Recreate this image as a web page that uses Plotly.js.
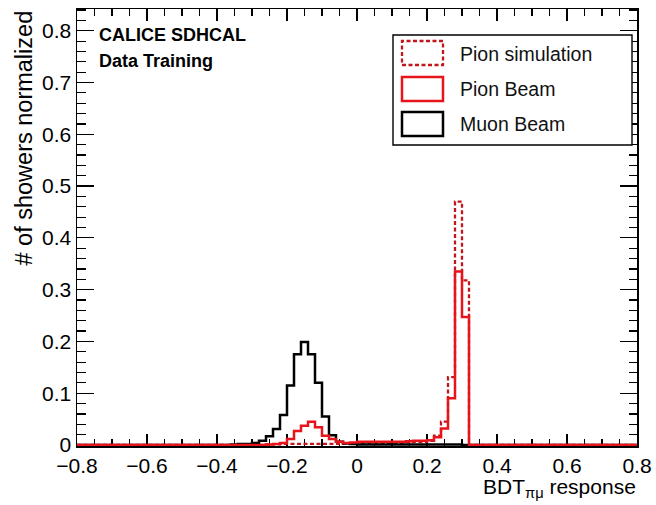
<!DOCTYPE html>
<html>
<head>
<meta charset="utf-8">
<script src="https://cdn.plot.ly/plotly-3.0.1.min.js"></script>
<style>html,body{margin:0;padding:0;background:#fff;}#chart{width:656px;height:505px;}</style>
</head>
<body>
<div id="chart"></div>
<script>
// ---- data (bin left edges, width 0.02) ----
const binWidth = 0.02;
const binLeft = [-0.36,-0.34,-0.32,-0.30,-0.28,-0.26,-0.24,-0.22,-0.20,-0.18,-0.16,-0.14,-0.12,-0.10,-0.08,-0.06,-0.04,-0.02,
                 0.00,0.02,0.04,0.06,0.08,0.10,0.12,0.14,0.16,0.18,0.20,0.22,0.24,0.26,0.28,0.30,0.32];
const muonBeam = [0.001,0.002,0.002,0.004,0.008,0.017,0.031,0.058,0.115,0.175,0.199,0.175,0.120,0.055,0.019,0.006,0.003,0.002,
                  0.001,0.001,0.001,0.001,0.001,0.001,0.001,0.001,0.001,0.001,0.001,0.001,0.001,0.001,0.001,0.000,0.000];
const pionBeam = [0.000,0.000,0.000,0.000,0.000,0.001,0.002,0.004,0.0115,0.027,0.037,0.045,0.034,0.018,0.0115,0.006,0.004,0.005,
                  0.006,0.006,0.006,0.006,0.006,0.006,0.006,0.007,0.008,0.008,0.009,0.015,0.032,0.090,0.335,0.247,0.000];
const pionSim  = [0.000,0.000,0.000,0.000,0.000,0.001,0.001,0.002,0.002,0.002,0.002,0.002,0.002,0.002,0.002,0.002,0.003,0.003,
                  0.004,0.004,0.004,0.004,0.004,0.004,0.004,0.005,0.006,0.006,0.008,0.018,0.045,0.131,0.470,0.318,0.000];
const seriesNames = ["Pion simulation","Pion Beam","Muon Beam"];
const xTickVals = [-0.8,-0.6,-0.4,-0.2,0,0.2,0.4,0.6,0.8];
const yTickVals = [0,0.1,0.2,0.3,0.4,0.5,0.6,0.7,0.8];
const xRange = [-0.8, 0.8];
const yRange = [-0.002, 0.842];

// ---- helpers ----
function stepTrace(vals, color, dash, width){
  const xs = [xRange[0]], ys = [0];
  binLeft.forEach((b,i)=>{ xs.push(b); ys.push(vals[i]); });
  const lastRight = binLeft[binLeft.length-1] + binWidth;
  xs.push(lastRight); ys.push(0);
  xs.push(xRange[1]); ys.push(0);
  return {x: xs, y: ys, type:'scatter', mode:'lines', line:{shape:'hv', color:color, width:width, dash:dash}, hoverinfo:'skip', showlegend:false};
}
const RED = '#e8141c', DRED = '#c2151c', BLK = '#000000';
const traces = [
  stepTrace(pionSim, DRED, '4px,2.5px', 2.3),
  stepTrace(muonBeam, BLK, 'solid', 2.5),
  stepTrace(pionBeam, RED, 'solid', 2.5)
];

const L=77, R=637, T=9, B=446;
const px = x => (x-L)/(R-L);
const py = y => (B-y)/(B-T);
const FONT = 'Liberation Sans, Arial, Helvetica, sans-serif';

const shapes = [
  {type:'rect', xref:'paper', yref:'paper', x0:px(393), x1:px(632), y0:py(145), y1:py(35), line:{color:'#000', width:1.4}, fillcolor:'#fff', layer:'above'},
  {type:'rect', xref:'paper', yref:'paper', x0:px(402), x1:px(443), y0:py(65), y1:py(41), line:{color:DRED, width:2.3, dash:'4px,2.5px'}, fillcolor:'rgba(0,0,0,0)', layer:'above'},
  {type:'rect', xref:'paper', yref:'paper', x0:px(402), x1:px(443), y0:py(101), y1:py(77), line:{color:RED, width:2.5}, fillcolor:'rgba(0,0,0,0)', layer:'above'},
  {type:'rect', xref:'paper', yref:'paper', x0:px(402), x1:px(443), y0:py(136), y1:py(112), line:{color:BLK, width:2.5}, fillcolor:'rgba(0,0,0,0)', layer:'above'}
];
const legendY = [54, 89, 124];
const annotations = seriesNames.map((n,i)=>({text:n, xref:'paper', yref:'paper', x:px(458), y:py(legendY[i]), xanchor:'left', yanchor:'middle', showarrow:false, font:{family:FONT, size:19.5, color:'#111'}}));
annotations.push({text:'<b>CALICE SDHCAL</b>', xref:'paper', yref:'paper', x:px(97), y:py(35), xanchor:'left', yanchor:'middle', showarrow:false, font:{family:FONT, size:18, color:'#000'}});
annotations.push({text:'<b>Data Training</b>', xref:'paper', yref:'paper', x:px(97), y:py(61), xanchor:'left', yanchor:'middle', showarrow:false, font:{family:FONT, size:18, color:'#000'}});
annotations.push({text:'BDT<sub>πμ</sub> response', xref:'paper', yref:'paper', x:px(638), y:py(488), xanchor:'right', yanchor:'middle', showarrow:false, font:{family:FONT, size:21, color:'#000'}});
annotations.push({text:'# of showers normalized', xref:'paper', yref:'paper', x:px(23), y:py(9), xanchor:'center', yanchor:'top', textangle:-90, showarrow:false, font:{family:FONT, size:23.5, color:'#000'}});

const layout = {
  width:656, height:505,
  margin:{l:L, r:656-R, t:T, b:505-B, pad:0},
  paper_bgcolor:'#fff', plot_bgcolor:'#fff',
  showlegend:false,
  font:{family:FONT, color:'#000'},
  xaxis:{range:xRange, tickvals:xTickVals, ticks:'inside', ticklen:12, tickwidth:1.2, tickcolor:'#000',
         minor:{dtick:0.05, tick0:-0.8, ticks:'inside', ticklen:7, tickwidth:1.2, tickcolor:'#000', showgrid:false},
         showline:true, linecolor:'#000', linewidth:1.5, mirror:'ticks', showgrid:false, zeroline:false,
         tickfont:{family:FONT, size:21, color:'#000'}, layer:'below traces', fixedrange:true},
  yaxis:{range:yRange, tickvals:yTickVals, ticks:'inside', ticklen:17, tickwidth:1.2, tickcolor:'#000',
         minor:{dtick:0.02, tick0:0, ticks:'inside', ticklen:8.5, tickwidth:1.2, tickcolor:'#000', showgrid:false},
         showline:true, linecolor:'#000', linewidth:1.5, mirror:'ticks', showgrid:false, zeroline:false,
         tickfont:{family:FONT, size:21, color:'#000'}, layer:'below traces', fixedrange:true},
  shapes:shapes,
  annotations:annotations
};
Plotly.newPlot('chart', traces, layout, {staticPlot:true, displayModeBar:false});
</script>
</body>
</html>
